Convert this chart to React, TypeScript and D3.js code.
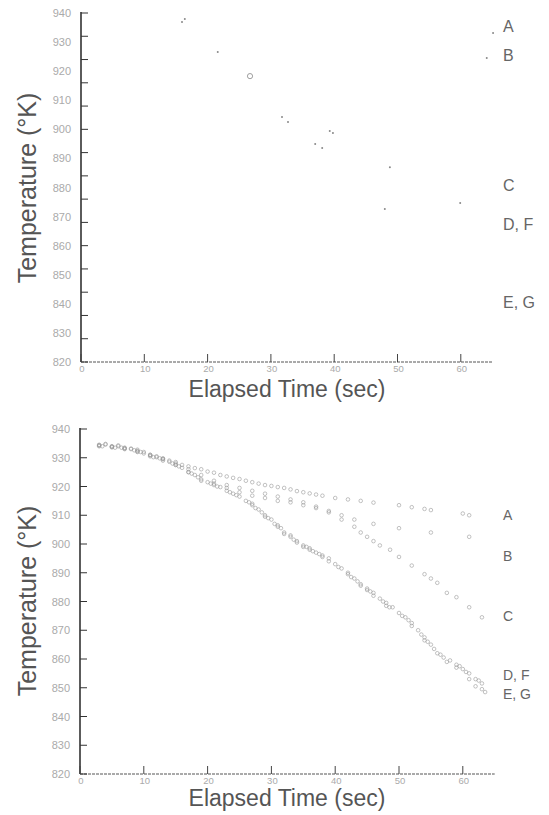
import React from "react";
import * as d3 from "d3";

// ---------- data ----------
const yTickLabels = [940, 930, 920, 910, 900, 890, 880, 870, 860, 850, 840, 830, 820];
const xTickLabels = [0, 10, 20, 30, 40, 50, 60];
const topMinorTicks = [940, 932, 924, 916, 908, 900, 892, 884, 876, 868, 860, 852, 844, 836, 828, 820];

// top panel: sparse specks [sec, K]
const topSpecks: [number, number][] = [
  [15.96, 936.9], [16.4, 937.9], [21.6, 926.6], [31.75, 904.2], [32.7, 902.5],
  [39.3, 899.4], [39.8, 898.7], [37.0, 895], [38.1, 893.6], [48.8, 887],
  [48.0, 872.6], [59.9, 874.7], [64.1, 924.5], [65.1, 933.1],
];
const topCircles: [number, number][] = [[26.7, 918.3]];

const seriesLabels = ["A", "B", "C", "D, F", "E, G"];
const topLabelTemps = [935.5, 925.4, 881, 867.4, 840.5];
const bottomLabelTemps = [910, 895.7, 874.8, 854.3, 848.0];

const seriesA: [number, number][] = [
  [3, 934.5], [4, 934.8], [5, 934], [6, 934.3], [7, 933.5], [8, 933.2], [9, 932.8], [10, 931.5],
  [11, 931], [12, 930.5], [13, 929.8], [14, 929], [15, 928.5], [16, 927.5], [17, 927], [18, 926.4],
  [19, 926], [20, 925.2], [21, 924.8], [22, 924], [23, 923.5], [24, 923], [25, 922.6], [26, 922],
  [27, 921.5], [28, 921], [29, 920.5], [30, 920.2], [31, 919.8], [32, 919.5], [33, 919], [34, 918.4],
  [35, 918], [36, 917.6], [37, 917.2], [38, 916.8], [40, 916], [42, 915.5], [44, 915], [46, 914.4],
  [50, 913.5], [52, 912.8], [54, 912.2], [55, 911.8], [60, 910.6], [61, 910],
];
const seriesB: [number, number][] = [
  [3, 934], [5, 933.6], [7, 933], [9, 932], [11, 930.5], [13, 929], [15, 927.5], [17, 925],
  [19, 922.5], [21, 921], [23, 919.5], [25, 918], [27, 916.8], [29, 916], [31, 915], [33, 914.5],
  [35, 913.5], [37, 912.5], [39, 911.5], [41, 910], [43, 908.5], [46, 907], [50, 905.5], [55, 904],
  [61, 902.5],
];
const seriesC: [number, number][] = [
  [3, 934.2], [5, 933.8], [7, 933.2], [9, 932.2], [11, 930.8], [13, 929.5], [15, 928], [17, 926],
  [19, 924], [21, 922], [23, 920.5], [25, 919.5], [27, 918.5], [29, 917.5], [31, 916.5], [33, 915.5],
  [35, 914.5], [37, 913], [39, 911], [41, 908.5], [43, 906], [44, 904], [45, 902.5], [46, 901],
  [47, 899.5], [48.6, 898], [50, 895.5], [52, 892.5], [54, 889.5], [55, 888], [56, 886.5],
  [57.5, 883], [59, 881.5], [61, 878], [63, 874.5],
];
const seriesD: [number, number][] = [
  [3, 934.4], [5, 933.9], [7, 933.3], [9, 932.4], [11, 931], [13, 929.6], [15, 927.5], [17, 925],
  [19, 922], [21, 920.5], [23, 918.5], [25, 916.5], [27, 913.5], [28, 912], [29, 910], [30, 908.5],
  [31, 906.5], [32, 904], [33, 902.5], [34, 901], [35, 899.5], [36, 898.5], [37, 897], [38, 896],
  [39, 895], [41, 891.5], [42, 890], [43, 888], [44, 886], [45, 884.5], [46, 883], [47, 881],
  [48, 879.5], [49, 878], [51, 874.5], [52, 872.5], [53, 870], [54, 867.5], [55, 865], [56, 862],
  [58, 859.5], [59, 858], [60, 856.5], [61, 855], [62, 853], [63, 851.5],
];
const seriesE: [number, number][] = [
  [4, 934.6], [6, 934], [8, 933], [10, 932], [12, 930.2], [14, 928.6], [16, 926.5], [18, 924],
  [20, 921.5], [22, 919.8], [24, 917.5], [26, 915], [27.5, 912.5], [29, 909.5], [30.5, 907],
  [32, 903.5], [33.5, 901.5], [35, 899], [36.5, 897.5], [38, 895.5], [40, 893], [42, 889.5],
  [44, 885.5], [46, 882], [48, 878.5], [50, 876], [52, 871.5], [54, 866.5], [55.5, 863.5],
  [57, 860.5], [59, 857], [61, 853], [62, 850.5], [63.5, 848.5],
];
const seriesF: [number, number][] = [
  [3.5, 934], [6.5, 933.5], [9.5, 932], [12.5, 929.8], [15.5, 927], [18.5, 923.2], [21.5, 920],
  [24.5, 917], [27, 914], [29.5, 909], [31.5, 905.5], [33, 903], [35.5, 899], [37.5, 896.5],
  [40.5, 892], [43.5, 887], [45.5, 883.5], [47.5, 880], [50.5, 875], [53.5, 868.5], [56.5, 861.5],
  [59.5, 857.5], [62.5, 852.5],
];
const seriesG: [number, number][] = [
  [5.5, 933.5], [8.5, 932.6], [11.5, 930.2], [14.5, 928], [17.5, 924.5], [20.5, 921], [23.5, 918],
  [26.5, 914.5], [28.5, 911], [31, 906], [34, 900.5], [36, 898], [39, 894], [42.5, 888.5],
  [45, 884], [48.5, 878], [51.5, 873.5], [54.5, 866], [57.5, 859], [60.5, 855.5], [63, 849.5],
];
const bottomSeries = [seriesA, seriesB, seriesC, seriesD, seriesE, seriesF, seriesG];

// ---------- layout ----------
const W = 549;
const H = 815;
const FONT = "'Liberation Sans', Arial, sans-serif";

type PanelProps = {
  x0: number; x1: number; yTop: number; yBot: number;
  yTicks: number[]; titleY: number; yTitleCenter: number;
  children: (x: d3.ScaleLinear<number, number>, y: d3.ScaleLinear<number, number>) => React.ReactNode;
};

function Panel({ x0, x1, yTop, yBot, yTicks, titleY, yTitleCenter, children }: PanelProps) {
  const x = d3.scaleLinear().domain([0, 65]).range([x0, x1]);
  const y = d3.scaleLinear().domain([820, 940]).range([yBot, yTop]);
  return (
    <g>
      <line x1={x0} x2={x0} y1={y(940) - 1} y2={yBot} stroke="#333" strokeWidth={1.6} />
      <line x1={x0} x2={x(65)} y1={yBot} y2={yBot} stroke="#555" strokeWidth={1} strokeDasharray="3 1" />
      {yTicks.map((v) => (
        <line key={"yt" + v} x1={x0} x2={x0 + 7} y1={y(v)} y2={y(v)} stroke="#333" strokeWidth={1} />
      ))}
      {xTickLabels.map((v) => (
        <line key={"xt" + v} x1={x(v)} x2={x(v)} y1={yBot} y2={yBot - 8} stroke="#444" strokeWidth={1} />
      ))}
      {yTickLabels.map((v) => (
        <text key={"yl" + v} x={x0 - 10} y={y(v) + 4} textAnchor="end" fontSize={11} fill="#aaa"
          fontFamily={FONT}>{v}</text>
      ))}
      {xTickLabels.map((v) => (
        <text key={"xl" + v} x={x(v) + 1} y={yBot + 10} textAnchor="middle" fontSize={9.5} fill="#aaa"
          fontFamily={FONT}>{v}</text>
      ))}
      <text x={287} y={titleY} textAnchor="middle" fontSize={23} fill="#555" fontFamily={FONT}>
        Elapsed Time (sec)
      </text>
      <text transform={`translate(36,${yTitleCenter}) rotate(-90)`} textAnchor="middle" fontSize={25}
        fill="#555" fontFamily={FONT}>
        Temperature (°K)
      </text>
      {children(x, y)}
    </g>
  );
}

export default function App() {
  return (
    <svg width={W} height={H} style={{ position: "absolute", left: 0, top: 0, background: "#fff" }}>
      <Panel x0={81} x1={81 + 65 * 6.33} yTop={13} yBot={362} yTicks={topMinorTicks}
        titleY={397} yTitleCenter={188}>
        {(x, y) => (
          <g>
            {topSpecks.map((d, i) => (
              <circle key={"s" + i} cx={x(d[0])} cy={y(d[1])} r={1} fill="#888" />
            ))}
            {topCircles.map((d, i) => (
              <circle key={"c" + i} cx={x(d[0])} cy={y(d[1])} r={2.6} fill="none" stroke="#888" strokeWidth={0.8} />
            ))}
            {seriesLabels.map((s, i) => (
              <text key={"tl" + s} x={503} y={y(topLabelTemps[i]) + 6} fontSize={16} fill="#666"
                fontFamily={FONT}>{s}</text>
            ))}
          </g>
        )}
      </Panel>
      <Panel x0={80} x1={80 + 65 * 6.38} yTop={429} yBot={774} yTicks={yTickLabels}
        titleY={806} yTitleCenter={601}>
        {(x, y) => (
          <g>
            {bottomSeries.map((ser, si) => (
              <g key={"ser" + si}>
                {ser.map((d, i) => (
                  <circle key={i} cx={x(d[0])} cy={y(d[1])} r={1.8} fill="none" stroke="#999" strokeWidth={0.6} />
                ))}
              </g>
            ))}
            {seriesLabels.map((s, i) => (
              <text key={"bl" + s} x={503} y={y(bottomLabelTemps[i]) + 5} fontSize={14} fill="#666"
                fontFamily={FONT}>{s}</text>
            ))}
          </g>
        )}
      </Panel>
    </svg>
  );
}
